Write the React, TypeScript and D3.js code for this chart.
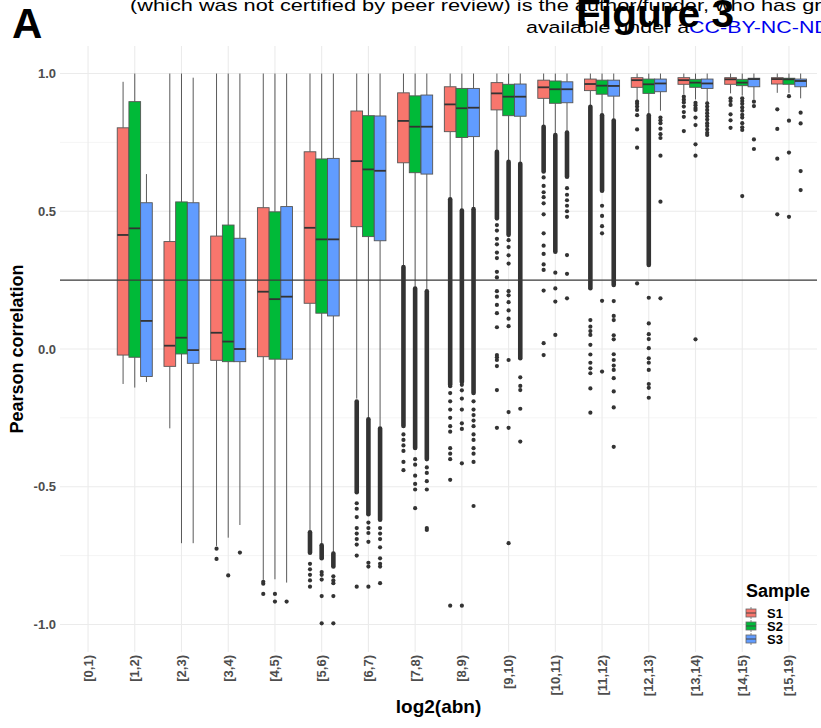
import React from "react";
import * as d3 from "d3";

const categories = ["[0,1)", "[1,2)", "[2,3)", "[3,4)", "[4,5)", "[5,6)", "[6,7)", "[7,8)", "[8,9)", "[9,10)", "[10,11)", "[11,12)", "[12,13)", "[13,14)", "[14,15)", "[15,19)"];
const samples = ["S1", "S2", "S3"];
const sampleColors = ["#F8766D", "#00BA38", "#619CFF"];
const yTicks = [-1.0, -0.5, 0.0, 0.5, 1.0];
const yMinorTicks = [-0.75, -0.25, 0.25, 0.75];
const refLine = 0.25;

// box statistics per sample (index = category; null = no data)
const s1Lo = [null, -0.127, -0.288, -0.715, -0.838, -0.663, -0.18, 0.30, 0.545, 0.72, 0.812, 0.876, 0.9, 0.925, 0.928, 0.93];
const s1Q1 = [null, -0.022, -0.063, -0.041, -0.028, 0.166, 0.444, 0.676, 0.789, 0.868, 0.91, 0.938, 0.95, 0.961, 0.961, 0.962];
const s1Med = [null, 0.414, 0.012, 0.059, 0.208, 0.44, 0.682, 0.828, 0.888, 0.928, 0.95, 0.962, 0.976, 0.976, 0.979, 0.98];
const s1Q3 = [null, 0.803, 0.39, 0.41, 0.513, 0.716, 0.864, 0.93, 0.952, 0.967, 0.976, 0.98, 0.985, 0.985, 0.985, 0.985];
const s1Hi = [null, 0.97, 1.0, 1.0, 1.0, 1.0, 1.0, 1.0, 1.0, 1.0, 1.0, 1.0, 1.0, 1.0, 1.0, 1.0];

const s2Lo = [null, -0.14, -0.705, -0.685, -0.836, -0.711, -0.25, 0.222, 0.505, 0.68, 0.777, 0.85, 0.85, 0.906, 0.92, 0.93];
const s2Q1 = [null, -0.03, -0.018, -0.046, -0.037, 0.13, 0.408, 0.64, 0.768, 0.847, 0.892, 0.925, 0.928, 0.95, 0.956, 0.961];
const s2Med = [null, 0.438, 0.041, 0.027, 0.181, 0.398, 0.652, 0.807, 0.874, 0.916, 0.943, 0.956, 0.961, 0.967, 0.967, 0.979];
const s2Q3 = [null, 0.898, 0.534, 0.45, 0.498, 0.69, 0.847, 0.919, 0.946, 0.961, 0.973, 0.976, 0.98, 0.979, 0.979, 0.983];
const s2Hi = [null, 1.0, 1.0, 1.0, 1.0, 1.0, 1.0, 1.0, 1.0, 1.0, 1.0, 1.0, 1.0, 1.0, 1.0, 1.0];

const s3Lo = [null, -0.12, -0.705, -0.639, -0.848, -0.742, -0.285, 0.21, 0.51, 0.673, 0.79, 0.831, 0.865, 0.895, 0.906, 0.91];
const s3Q1 = [null, -0.1, -0.052, -0.046, -0.037, 0.12, 0.393, 0.635, 0.771, 0.845, 0.894, 0.918, 0.934, 0.946, 0.952, 0.952];
const s3Med = [null, 0.102, -0.004, 0.0, 0.19, 0.398, 0.647, 0.807, 0.876, 0.916, 0.943, 0.955, 0.964, 0.964, 0.98, 0.973];
const s3Q3 = [null, 0.531, 0.531, 0.402, 0.517, 0.692, 0.846, 0.922, 0.946, 0.962, 0.97, 0.976, 0.98, 0.98, 0.983, 0.98];
const s3Hi = [null, 0.635, 0.985, 1.0, 1.0, 1.0, 1.0, 1.0, 1.0, 1.0, 1.0, 1.0, 1.0, 1.0, 1.0, 1.0];

// dense outlier runs: [category index, from, to]
const s1Dense = [[5, -0.665, -0.74], [6, -0.19, -0.52], [7, 0.298, -0.28], [8, 0.544, -0.13], [9, 0.716, 0.474], [10, 0.807, 0.644], [11, 0.88, 0.22]];
const s2Dense = [[5, -0.712, -0.76], [6, -0.255, -0.6], [7, 0.22, -0.36], [8, 0.503, -0.12], [9, 0.68, 0.414], [10, 0.777, 0.353], [11, 0.849, 0.574], [12, 0.849, 0.305]];
const s3Dense = [[5, -0.742, -0.79], [6, -0.288, -0.62], [7, 0.21, -0.4], [8, 0.508, -0.16], [9, 0.673, -0.034], [10, 0.786, 0.625], [11, 0.83, 0.232]];

// individual outliers: [category index, values]
const s1Out = [
  [3, [-0.725, -0.762]],
  [4, [-0.845, -0.852, -0.889]],
  [5, [-0.78, -0.8, -0.82, -0.84, -0.863]],
  [6, [-0.56, -0.58, -0.61, -0.65, -0.67, -0.69, -0.71, -0.75, -0.863]],
  [7, [-0.31, -0.33, -0.35, -0.37, -0.41, -0.44]],
  [8, [-0.135, -0.16, -0.19, -0.22, -0.25, -0.28, -0.3, -0.36, -0.38, -0.4, -0.475, -0.932]],
  [9, [0.45, 0.43, 0.4, 0.38, 0.35, 0.33, 0.28, 0.26, 0.21, 0.19, 0.16, 0.13, 0.079, -0.022, -0.03, -0.04, -0.062, -0.149, -0.286]],
  [10, [0.623, 0.592, 0.569, 0.551, 0.529, 0.489, 0.42, 0.375, 0.345, 0.307, 0.287, 0.212, 0.021, -0.022]],
  [11, [0.105, 0.081, 0.065, 0.051, 0.015, -0.02, -0.05, -0.07, -0.088, -0.143, -0.231]],
  [12, [0.898, 0.89, 0.88, 0.868, 0.849, 0.797, 0.731, 0.238]],
  [13, [0.916, 0.905, 0.895, 0.88, 0.86, 0.843, 0.791]],
  [14, [0.91, 0.9, 0.886, 0.852, 0.83, 0.803]],
  [15, [0.87, 0.799, 0.691, 0.489]],
];
const s2Out = [
  [3, [-0.822]],
  [4, [-0.889, -0.917]],
  [5, [-0.81, -0.82, -0.837, -0.897, -0.996]],
  [6, [-0.63, -0.65, -0.668, -0.7, -0.776, -0.79, -0.863]],
  [7, [-0.4, -0.42, -0.46, -0.49, -0.51, -0.578]],
  [8, [-0.13, -0.15, -0.18, -0.22, -0.27, -0.29, -0.415, -0.932]],
  [9, [0.395, 0.37, 0.34, 0.31, 0.21, 0.195, 0.17, 0.14, 0.11, 0.083, -0.04, -0.229, -0.286, -0.705]],
  [10, [0.277, 0.22, 0.172, 0.051]],
  [11, [0.52, 0.483, 0.446, 0.42, 0.175, -0.082]],
  [12, [0.186, 0.093, 0.054, 0.036, 0.003, -0.034, -0.05, -0.076, -0.127, -0.141, -0.177]],
  [13, [0.894, 0.885, 0.875, 0.868, 0.84, 0.813, 0.743, 0.702, 0.035]],
  [14, [0.91, 0.9, 0.89, 0.877, 0.865, 0.85, 0.84, 0.82, 0.805, 0.795, 0.555]],
  [15, [0.918, 0.829, 0.713, 0.48]],
];
const s3Out = [
  [3, [-0.739]],
  [4, [-0.917]],
  [5, [-0.825, -0.84, -0.85, -0.897, -0.996]],
  [6, [-0.65, -0.67, -0.69, -0.72, -0.76, -0.78, -0.79, -0.85]],
  [7, [-0.43, -0.45, -0.48, -0.51, -0.65, -0.657]],
  [8, [-0.19, -0.22, -0.24, -0.26, -0.28, -0.31, -0.33, -0.36, -0.38, -0.41, -0.57]],
  [9, [-0.103, -0.134, -0.149, -0.217, -0.336]],
  [10, [0.584, 0.56, 0.54, 0.52, 0.5, 0.48, 0.341, 0.273, 0.184]],
  [11, [0.174, 0.12, 0.105, 0.05, 0.035, -0.019, -0.04, -0.06, -0.076, -0.106, -0.154, -0.212, -0.355]],
  [12, [0.84, 0.83, 0.82, 0.8, 0.78, 0.766, 0.702, 0.535, 0.184]],
  [13, [0.892, 0.88, 0.868, 0.856, 0.845, 0.833, 0.82, 0.81, 0.797, 0.785, 0.777]],
  [14, [0.898, 0.882, 0.761, 0.726]],
  [15, [0.858, 0.819, 0.646, 0.577]],
];

const W = 821;
const H = 728;
const panel = { left: 60, right: 817, top: 46, bottom: 652 };
const FONT = "'Liberation Sans', Arial, Helvetica, sans-serif";

export default function App() {
  const x = d3.scalePoint<string>().domain(categories).range([panel.left, panel.right]).padding(0.6);
  const y = d3.scaleLinear().domain([-1.1, 1.1]).range([panel.bottom, panel.top]);
  const step = x.step();
  const dodge = d3.scaleBand<string>().domain(samples).range([-step * 0.375, step * 0.375]);
  const bw = dodge.bandwidth();

  const stats = [
    { lo: s1Lo, q1: s1Q1, med: s1Med, q3: s1Q3, hi: s1Hi, dense: s1Dense, out: s1Out },
    { lo: s2Lo, q1: s2Q1, med: s2Med, q3: s2Q3, hi: s2Hi, dense: s2Dense, out: s2Out },
    { lo: s3Lo, q1: s3Q1, med: s3Med, q3: s3Q3, hi: s3Hi, dense: s3Dense, out: s3Out },
  ];

  const cx = (ci: number, si: number) => (x(categories[ci]) as number) + (dodge(samples[si]) as number) + bw / 2;

  const boxes: any[] = [];
  const points: any[] = [];
  const denses: any[] = [];
  stats.forEach((s, si) => {
    categories.forEach((c, ci) => {
      if (s.q1[ci] == null) return;
      const xc = cx(ci, si);
      boxes.push(
        <g key={`b${si}-${ci}`}>
          <line x1={xc} x2={xc} y1={y(s.hi[ci] as number)} y2={y(s.q3[ci] as number)} stroke="#5a5a5a" strokeWidth={1} />
          <line x1={xc} x2={xc} y1={y(s.q1[ci] as number)} y2={y(s.lo[ci] as number)} stroke="#5a5a5a" strokeWidth={1} />
          <rect x={xc - bw / 2} width={bw} y={y(s.q3[ci] as number)} height={y(s.q1[ci] as number) - y(s.q3[ci] as number)} fill={sampleColors[si]} stroke="#555" strokeWidth={0.9} />
          <line x1={xc - bw / 2} x2={xc + bw / 2} y1={y(s.med[ci] as number)} y2={y(s.med[ci] as number)} stroke="#333" strokeWidth={1.8} />
        </g>
      );
    });
    s.dense.forEach((d: any, k: number) => {
      const xc = cx(d[0], si);
      const y0 = y(d[1]);
      const y1 = y(d[2]);
      denses.push(<rect key={`d${si}-${k}`} x={xc - 2.3} width={4.6} y={y0 - 2.2} height={y1 - y0 + 4.4} rx={2.3} fill="#333" />);
    });
    s.out.forEach((o: any) => {
      const xc = cx(o[0], si);
      o[1].forEach((v: number, k: number) => {
        points.push(<circle key={`p${si}-${o[0]}-${k}`} cx={xc} cy={y(v)} r={2.1} fill="#333" />);
      });
    });
  });

  const legendY = [613, 626, 639];

  return (
    <svg width={W} height={H} style={{ position: "absolute", left: 0, top: 0, background: "#fff" }} fontFamily={FONT}>
      <rect width={W} height={H} fill="#fff" />
      {/* header */}
      <text transform="translate(130,11) scale(1.28,1)" fontSize={17} fill="#000">(which was not certified by peer review) is the author/funder, who has granted</text>
      <text transform="translate(526,33) scale(1.26,1)" fontSize={17} fill="#000">available under a<tspan fill="#0000ee">CC-BY-NC-ND 4.0</tspan></text>
      <text transform="translate(576,27) scale(1.07,1)" fontSize={38} fontWeight="bold" fill="#000">Figure 3</text>
      <text x={12} y={38} fontSize={42} fontWeight="bold" fill="#000">A</text>
      <text x={13} y={761} fontSize={42} fontWeight="bold" fill="#000">B</text>

      {/* grid */}
      {yMinorTicks.map((t) => (
        <line key={`mn${t}`} x1={panel.left} x2={panel.right} y1={y(t)} y2={y(t)} stroke="#f2f2f2" strokeWidth={0.8} />
      ))}
      {yTicks.map((t) => (
        <line key={`mj${t}`} x1={panel.left} x2={panel.right} y1={y(t)} y2={y(t)} stroke="#ebebeb" strokeWidth={1.1} />
      ))}
      {categories.map((c) => (
        <line key={`vg${c}`} x1={x(c)} x2={x(c)} y1={panel.top} y2={panel.bottom} stroke="#ebebeb" strokeWidth={1.1} />
      ))}

      {boxes}
      {denses}
      {points}

      <line x1={panel.left} x2={panel.right} y1={y(refLine)} y2={y(refLine)} stroke="#3a3a3a" strokeWidth={1.2} />

      {/* y axis */}
      {yTicks.map((t) => (
        <text key={`yt${t}`} x={56} y={y(t)} dy="0.35em" textAnchor="end" fontSize={13} fontWeight="bold" fill="#4d4d4d">
          {d3.format(".1f")(t).replace("−", "-")}
        </text>
      ))}
      <text transform={`translate(23,${(panel.top + panel.bottom) / 2}) rotate(-90)`} textAnchor="middle" fontSize={18} fontWeight="bold" fill="#000">
        Pearson correlation
      </text>

      {/* x axis */}
      {categories.map((c) => (
        <text key={`xt${c}`} transform={`translate(${(x(c) as number) + 4.5},655) rotate(-90)`} textAnchor="end" fontSize={13} fontWeight="bold" fill="#4d4d4d">
          {c}
        </text>
      ))}
      <text x={(panel.left + panel.right) / 2} y={713} textAnchor="middle" fontSize={19} fontWeight="bold" fill="#000">
        log2(abn)
      </text>

      {/* legend */}
      <text x={746} y={597} fontSize={18} fontWeight="bold" fill="#000">Sample</text>
      {samples.map((s, i) => (
        <g key={`lg${s}`}>
          <line x1={751} x2={751} y1={legendY[i] - 6} y2={legendY[i] + 6} stroke="#888" strokeWidth={1} />
          <rect x={746} y={legendY[i] - 4} width={10} height={8} fill={sampleColors[i]} stroke="#666" strokeWidth={0.8} />
          <line x1={746} x2={756} y1={legendY[i]} y2={legendY[i]} stroke="#444" strokeWidth={1} />
          <text x={767} y={legendY[i] + 5} fontSize={13} fontWeight="bold" fill="#000">{s}</text>
        </g>
      ))}
    </svg>
  );
}
